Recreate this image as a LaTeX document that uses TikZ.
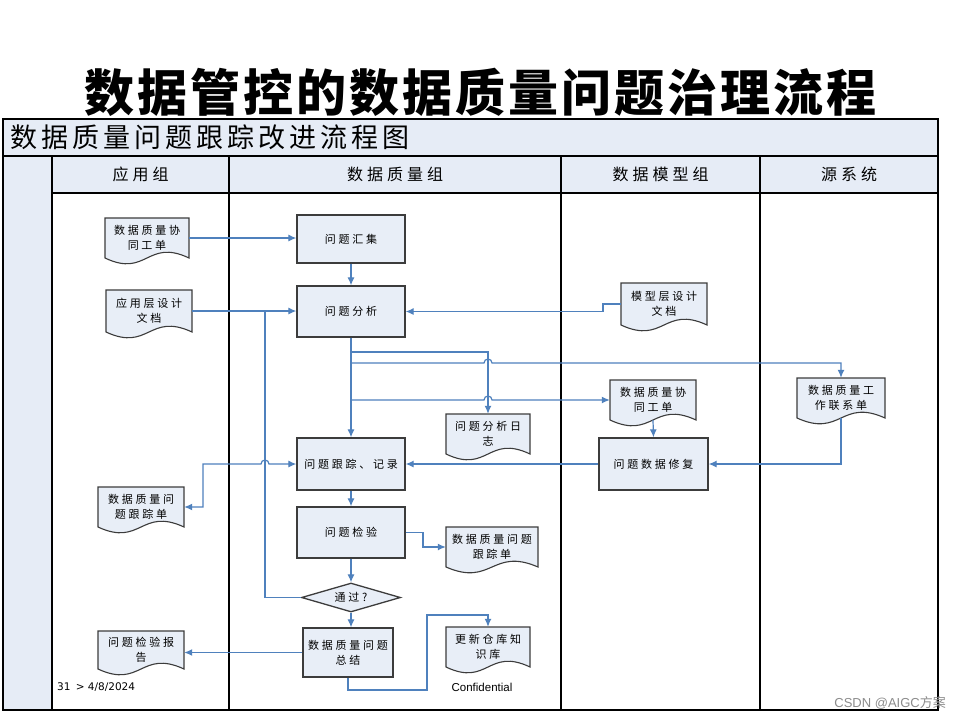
\documentclass[tikz,border=0pt]{standalone}
\usepackage{fontspec}
\usetikzlibrary{arrows.meta,shapes.geometric,calc}
\newfontfamily\cjk[LetterSpace=25]{Noto Sans CJK SC}
\newfontfamily\cjkband[LetterSpace=15]{Noto Sans CJK SC}
\newfontfamily\cjktitle[LetterSpace=6]{Noto Sans CJK SC}
\newfontfamily\cjkplain{Noto Sans CJK SC}
\newfontfamily\lsans{Liberation Sans}
\newfontfamily\dsans{DejaVu Sans}
\definecolor{bandfill}{HTML}{E6ECF6}
\definecolor{boxfill}{HTML}{E8EEF7}
\definecolor{boxline}{HTML}{3C3C3C}
\definecolor{flow}{HTML}{4F81BD}
\tikzset{
  frame/.style={draw=black, line width=1.3pt},
  proc/.style={draw=boxline, fill=boxfill, line width=1.3pt, inner sep=0pt,
    font=\cjk\fontsize{11}{15}\selectfont, align=center},
  docline/.style={draw=boxline, fill=boxfill, line width=1.1pt},
  doctext/.style={inner sep=0pt, font=\cjk\fontsize{11}{15}\selectfont, align=center},
  lanehead/.style={font=\cjk\fontsize{16}{18}\selectfont, inner sep=0pt},
  fl/.style={draw=flow, line width=1.2pt},
  fla/.style={fl, -{Latex[length=8pt,width=7pt]}},
  flb/.style={fl, {Latex[length=8pt,width=7pt]}-{Latex[length=8pt,width=7pt]}},
}
% name, center x, top y, width, height, text
\newcommand\docnode[6]{%
  \filldraw[docline] ({#2-#4/2},#3) -- ({#2+#4/2},#3) -- ({#2+#4/2},{#3+#5})
     .. controls (#2,{#3+#5-20}) and (#2,{#3+#5+20}) .. ({#2-#4/2},{#3+#5}) -- cycle;
  \node[doctext, minimum width=#4pt, minimum height=#5pt] (#1) at (#2,{#3+#5/2}) {#6};
}
\begin{document}
\begin{tikzpicture}[x=1pt,y=-1pt]
\useasboundingbox (0,0) rectangle (960,720);
\fill[white] (0,0) rectangle (960,720);

% title
\node[font=\cjktitle\bfseries\fontsize{50}{52}\selectfont] (title) at (480,92) {数据管控的数据质量问题治理流程};

% frame
\fill[bandfill] (3,119) rectangle (938,193);
\fill[bandfill] (3,193) rectangle (52,710);
\draw[frame] (3,119) rectangle (938,710);
\draw[frame] (3,156) -- (938,156);
\draw[frame] (52,193) -- (938,193);
\draw[frame] (52,156) -- (52,710);
\draw[frame] (229,156) -- (229,710);
\draw[frame] (561,156) -- (561,710);
\draw[frame] (760,156) -- (760,710);

\node[anchor=west, font=\cjkband\fontsize{27}{29}\selectfont, inner sep=0pt] (band) at (10,137.5) {数据质量问题跟踪改进流程图};
\node[lanehead] (h1) at (140.5,174) {应用组};
\node[lanehead] (h2) at (395,174) {数据质量组};
\node[lanehead] (h3) at (660.5,174) {数据模型组};
\node[lanehead] (h4) at (849,174) {源系统};

% process boxes
\node[proc, minimum width=108pt, minimum height=48pt] (b1) at (351,239) {问题汇集};
\node[proc, minimum width=108pt, minimum height=51pt] (b2) at (351,311.5) {问题分析};
\node[proc, minimum width=108pt, minimum height=52pt] (b3) at (351,464) {问题跟踪、记录};
\node[proc, minimum width=108pt, minimum height=51pt] (b4) at (351,532.5) {问题检验};
\node[proc, shape=diamond, aspect=3.4, minimum width=99pt, minimum height=29pt] (dia) at (351,597.5) {通过?};
\node[proc, minimum width=90pt, minimum height=49pt] (b5) at (348,652.5) {数据质量问题\\总结};
\node[proc, minimum width=109pt, minimum height=52pt] (b6) at (653.5,464) {问题数据修复};

% documents
\docnode{d1}{147}{218}{84}{40}{数据质量协\\同工单}
\docnode{d2}{149}{290}{86}{42}{应用层设计\\文档}
\docnode{d3}{664}{283}{86}{42}{模型层设计\\文档}
\docnode{d4}{653}{380}{86}{40}{数据质量协\\同工单}
\docnode{d5}{841}{378}{88}{40}{数据质量工\\作联系单}
\docnode{d6}{488}{414}{84}{40}{问题分析日\\志}
\docnode{d7}{141}{487}{86}{40}{数据质量问\\题跟踪单}
\docnode{d8}{492}{527}{92}{40}{数据质量问题\\跟踪单}
\docnode{d9}{141}{631}{86}{38}{问题检验报\\告}
\docnode{d10}{488}{627}{84}{40}{更新仓库知\\识库}

% connectors
\draw[fla] (d1.east) -- (d1.east -| b1.west);
\draw[fla] (b1.south) -- (b2.north);
\draw[fla] (d2.east) -- (d2.east -| b2.west);
\draw[fla] (d3.west) -- (603,304) -- (603,311.5) -- (b2.east);
\draw[fl] (dia.west) -- (265,597.5) -- (265,311.5);
\draw[fla] (b2.south) -- (b3.north);
\draw[fla] (351,352) -- (488,352) -- (d6.north);
\draw[fla] (351,363) -- (484,363) arc (180:360:4) -- (841,363) -- (d5.north);
\draw[fla] (351,400) -- (484,400) arc (180:360:4) -- (d4.west);
\draw[fla] (d4.south) -- (b6.north);
\draw[fla] (d5.south) -- (841,464) -- (b6.east);
\draw[fla] (b6.west) -- (b3.east);
\draw[flb] (d7.east) -- (203,507) -- (203,464) -- (261,464) arc (180:360:4) -- (b3.west);
\draw[fla] (b3.south) -- (b4.north);
\draw[fla] (b4.east) -- (423,532.5) -- (423,547) -- (d8.west);
\draw[fla] (b4.south) -- (dia.north);
\draw[fla] (dia.south) -- (dia.south |- b5.north);
\draw[fla] (b5.west) -- (b5.west -| d9.east);
\draw[fla] (b5.south) -- (348,690) -- (427,690) -- (427,615) -- (488,615) -- (d10.north);

% footer
\node[anchor=west, font=\dsans\fontsize{10.5}{12}\selectfont, inner sep=0pt] (foot1) at (57,687) {31\enspace > 4/8/2024};
\node[font=\lsans\fontsize{11.5}{13}\selectfont, inner sep=0pt] (foot2) at (482,687) {Confidential};
\node[anchor=east, font=\lsans\fontsize{13}{14}\selectfont, text=black!45, inner sep=0pt] (wm) at (946,703) {CSDN @AIGC{\cjkplain 方案}};
\end{tikzpicture}
\end{document}
